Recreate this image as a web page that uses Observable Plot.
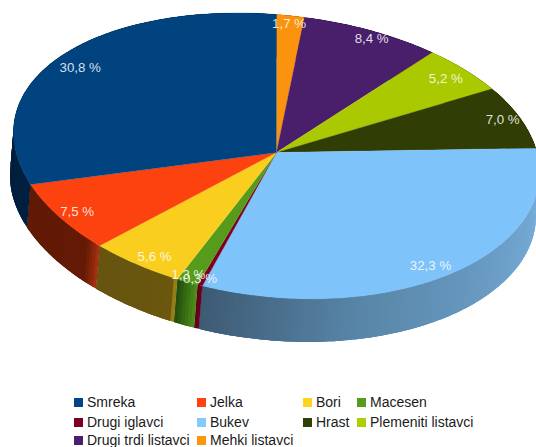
<!DOCTYPE html>
<html><head><meta charset="utf-8">
<script src="https://cdn.jsdelivr.net/npm/d3@7"></script>
<script src="https://cdn.jsdelivr.net/npm/@observablehq/plot@0.6"></script>
<style>
html,body{margin:0;padding:0;background:#fff;overflow:hidden}
#chart{position:relative;width:536px;height:447px;overflow:hidden;font-family:"Liberation Sans",sans-serif}
#chart svg{display:block}
.lg{position:absolute;left:0;top:360px;width:536px;height:87px}
.it{position:absolute;font-size:14px;line-height:14px;color:#1a1a1a;white-space:nowrap;padding-left:13px}
.it i{position:absolute;left:0;top:3px;width:9px;height:9px}
</style></head><body><div id="chart"></div>
<script>
// clockwise from 12 o'clock
const categories = ["Mehki listavci","Drugi trdi listavci","Plemeniti listavci","Hrast","Bukev","Drugi iglavci","Macesen","Bori","Jelka","Smreka"];
const values = [1.7,8.4,5.2,7.0,32.3,0.3,1.3,5.6,7.5,30.8];
const labels = ["1,7 %","8,4 %","5,2 %","7,0 %","32,3 %","0,3 %","1,3 %","5,6 %","7,5 %","30,8 %"];
const legendColors = ["#ff950e","#4b1f6f","#aecf00","#314004","#83caff","#7e0021","#579d1c","#ffd320","#ff420e","#004586"];
const topColors = ["#fb930e","#491f6c","#aac900","#303d04","#7ec3f9","#7e0021","#569b1c","#f9ce1f","#fb420f","#00437f"];
// side shading along each slice (start → end of slice, clockwise)
const sideStops = [
  [[0,"#804a07"]],[[0,"#250f37"]],[[0,"#576800"]],[[0,"#181f02"]],
  [[0,"#7db6e6"],[0.3,"#6fa2cc"],[0.7,"#5886a8"],[1,"#3e5a74"]],
  [[0,"#6e0022"],[1,"#5e0018"]],
  [[0,"#4f8f1a"],[1,"#1f4a0c"]],
  [[0,"#b8961a"],[0.05,"#6b570e"],[1,"#66540f"]],
  [[0,"#a83210"],[0.14,"#651a05"],[1,"#601a05"]],
  [[0,"#00203f"],[1,"#001c36"]]
];
// where each label sits, as a fraction of the radius (across, along the depth)
const labelRadiusX = [0.9,1.0,0.9,0.93,0.88,1.0,0.99,0.87,0.917,0.907];
const labelRadiusY = [0.945,0.937,0.894,0.95,0.934,0.95,0.943,0.937,0.93,0.887];
// legend reading order
const legendOrder = ["Smreka","Jelka","Bori","Macesen","Drugi iglavci","Bukev","Hrast","Plemeniti listavci","Drugi trdi listavci","Mehki listavci"];
const legendCols = [74,197,303,357,74,197,303,357,74,197];
const legendRows = [35,55,73];

const W = 536, H = 360;
const total = d3.sum(values);
const rad = p => p / total * 2 * Math.PI;
const cx = 276, cy = 152, R = 263, ry = 141.5, persp = 3.5, shear = 20, depthX = -3.5, depthY = 43;
function project(a, rho = 1, rhoY = rho) {
  const s = Math.sin(a), c = Math.cos(a);
  return [cx + rho * R * s, cy + rhoY * (-ry * c + persp * c * c + shear * s)];
}
const tops = [], sides = [], texts = [];
let acc = 0;
values.forEach((v, i) => {
  const a0 = rad(acc), a1 = rad(acc + v); acc += v;
  const n = Math.max(2, Math.ceil((a1 - a0) / rad(0.25)));
  const at = k => a0 + (a1 - a0) * Math.min(k, n) / n;
  const pts = [project(0, 0)];
  const stops = sideStops[i];
  const shade = t => {
    if (stops.length === 1) return stops[0][1];
    for (let k = 1; k < stops.length; k++) if (t <= stops[k][0])
      return d3.interpolateRgb(stops[k-1][1], stops[k][1])((t - stops[k-1][0]) / (stops[k][0] - stops[k-1][0]));
    return stops[stops.length-1][1];
  };
  for (let k = 0; k <= n; k++) pts.push(project(at(k)));
  pts.forEach(([x, y]) => tops.push({id: i, x, y, color: topColors[i]}));
  // each strip overlaps the next one so that no seam shows between them
  for (let k = 0; k < n; k++) {
    const rim = [project(at(k)), project(at(k + 1)), project(at(k + 2)), project(at(k + 3))];
    const id = i + "-" + k, color = shade((k + .5) / n);
    const poly = [...rim, ...rim.slice().reverse().map(([x, y]) => [x + depthX, y + depthY]), rim[0]];
    poly.forEach(([x, y]) => sides.push({id, x, y, color}));
  }
  const m = (a0 + a1) / 2;
  const [tx, ty] = project(m, labelRadiusX[i], labelRadiusY[i]);
  texts.push({x: tx, y: ty, label: labels[i]});
});

const plot = Plot.plot({
  width: W, height: H, margin: 0,
  x: {domain: [0, W], range: [0, W], axis: null},
  y: {domain: [0, H], range: [0, H], axis: null},
  color: {type: "identity"},
  marks: [
    Plot.line(sides, {x: "x", y: "y", z: "id", fill: "color", stroke: "none", curve: "linear"}),
    Plot.line(tops, {x: "x", y: "y", z: "id", fill: "color", stroke: "color", strokeWidth: 0.3, curve: "linear"}),
    Plot.text(texts, {x: "x", y: "y", text: "label", fill: "#fff", fillOpacity: 0.85, fontSize: 13.3, fontFamily: "Liberation Sans"})
  ]
});
const root = document.getElementById("chart");
root.appendChild(plot);

const lg = document.createElement("div"); lg.className = "lg";
legendOrder.forEach((name, j) => {
  const it = document.createElement("div"); it.className = "it";
  it.style.left = legendCols[j] + "px";
  it.style.top = legendRows[Math.floor(j / 4)] + "px";
  it.textContent = name;
  const sw = document.createElement("i");
  sw.style.background = legendColors[categories.indexOf(name)];
  it.appendChild(sw);
  lg.appendChild(it);
});
root.appendChild(lg);
</script></body></html>
